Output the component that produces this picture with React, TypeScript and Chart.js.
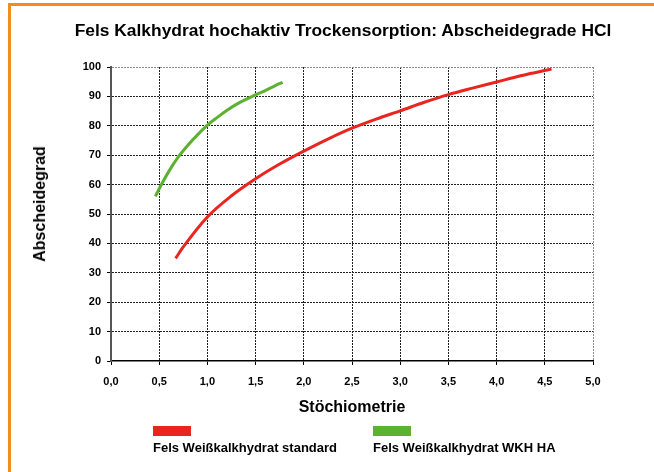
import React, { useEffect, useRef } from "react";
import { Chart, registerables } from "chart.js";

Chart.register(...registerables);

const chartTitle = "Fels Kalkhydrat hochaktiv Trockensorption: Abscheidegrade HCl";
const xAxisTitle = "Stöchiometrie";
const yAxisTitle = "Abscheidegrad";

const seriesNames = ["Fels Weißkalkhydrat standard", "Fels Weißkalkhydrat WKH HA"];
const seriesColors = ["#e8251f", "#5db130"];

const standardX = [0.67, 0.75, 1.0, 1.25, 1.5, 1.75, 2.0, 2.25, 2.5, 2.75, 3.0, 3.25, 3.5, 3.75, 4.0, 4.25, 4.57];
const standardY = [34.9, 38.8, 49.0, 56.2, 62.0, 67.0, 71.4, 75.5, 79.2, 82.3, 85.1, 88.0, 90.6, 92.8, 94.9, 97.0, 99.3];

const wkhX = [0.46, 0.5, 0.6, 0.7, 0.8, 0.9, 1.0, 1.1, 1.2, 1.3, 1.4, 1.5, 1.6, 1.7, 1.78];
const wkhY = [56.0, 58.6, 64.5, 69.5, 73.5, 77.0, 80.2, 82.8, 85.2, 87.3, 89.0, 90.5, 92.0, 93.6, 94.8];

const xMin = 0;
const xMax = 5;
const xStep = 0.5;
const yMin = 0;
const yMax = 100;
const yStep = 10;

const FONT = '"Liberation Sans", Arial, sans-serif';

export default function App() {
  const ref = useRef<HTMLCanvasElement | null>(null);

  useEffect(() => {
    if (!ref.current) return;
    const toPts = (xs: number[], ys: number[]) => xs.map((x, i) => ({ x, y: ys[i] }));
    const chart = new Chart(ref.current, {
      type: "line",
      data: {
        datasets: [
          {
            label: seriesNames[0],
            data: toPts(standardX, standardY),
            borderColor: seriesColors[0],
            backgroundColor: seriesColors[0],
            borderWidth: 3,
            pointRadius: 0,
            cubicInterpolationMode: "monotone",
            fill: false,
          },
          {
            label: seriesNames[1],
            data: toPts(wkhX, wkhY),
            borderColor: seriesColors[1],
            backgroundColor: seriesColors[1],
            borderWidth: 3,
            pointRadius: 0,
            cubicInterpolationMode: "monotone",
            fill: false,
          },
        ],
      },
      options: {
        animation: false,
        responsive: false,
        devicePixelRatio: 1,
        layout: { padding: { left: 0, top: 67, right: 61, bottom: 51 } },
        plugins: {
          legend: { display: false },
          title: { display: false },
          tooltip: { enabled: false },
        },
        scales: {
          x: {
            type: "linear",
            min: xMin,
            max: xMax,
            afterFit: (s: any) => {
              s.height = 60;
            },
            ticks: {
              stepSize: xStep,
              color: "#000",
              padding: 10,
              maxRotation: 0,
              font: { family: FONT, size: 11, weight: "bold" },
              callback: (v: any) => Number(v).toFixed(1).replace(".", ","),
            },
            grid: {
              color: (c: any) => (c.tick && c.tick.value === xMax ? "#8a8a8a" : c.tick && c.tick.value === xMin ? "rgba(0,0,0,0)" : "#222"),
              lineWidth: 1,
              tickLength: 4,
              tickColor: "#000",
              tickBorderDash: [],
            },
            border: { display: true, color: "#000", width: 1.5, dash: [2, 1] },
            title: {
              display: true,
              text: xAxisTitle,
              color: "#000",
              font: { family: FONT, size: 16, weight: "bold" },
              padding: { top: 0, bottom: 4 },
            },
          },
          y: {
            type: "linear",
            min: yMin,
            max: yMax,
            afterFit: (s: any) => {
              s.width = 111;
            },
            ticks: {
              stepSize: yStep,
              color: "#000",
              padding: 6,
              font: { family: FONT, size: 11, weight: "bold" },
            },
            grid: {
              color: (c: any) => (c.tick && c.tick.value === yMax ? "#8a8a8a" : c.tick && c.tick.value === yMin ? "rgba(0,0,0,0)" : "#222"),
              lineWidth: 1,
              tickLength: 4,
              tickColor: "#000",
              tickBorderDash: [],
            },
            border: { display: true, color: "#555", width: 2, dash: [2, 1] },
          },
        },
      },
    });
    return () => chart.destroy();
  }, []);

  const legendX = [153, 373];

  return (
    <div style={{ position: "absolute", left: 0, top: 0, width: 654, height: 472, background: "#fff", overflow: "hidden", fontFamily: FONT }}>
      <div
        style={{
          position: "absolute",
          left: 8,
          top: 3,
          width: 700,
          height: 500,
          borderLeft: "3px solid #f28c1e",
          borderTop: "3px solid #f28c1e",
        }}
      />
      <canvas ref={ref} width={654} height={472} style={{ position: "absolute", left: 0, top: 0, width: 654, height: 472 }} />
      <div
        style={{
          position: "absolute",
          left: 343,
          top: 30,
          transform: "translate(-50%, -50%)",
          whiteSpace: "nowrap",
          fontSize: 17.4,
          fontWeight: "bold",
          color: "#000",
        }}
      >
        {chartTitle}
      </div>
      <div
        style={{
          position: "absolute",
          left: 40,
          top: 204,
          transform: "translate(-50%, -50%) rotate(-90deg)",
          whiteSpace: "nowrap",
          fontSize: 16,
          fontWeight: "bold",
          color: "#000",
        }}
      >
        {yAxisTitle}
      </div>
      {seriesNames.map((name, i) => (
        <React.Fragment key={name}>
          <div style={{ position: "absolute", left: legendX[i], top: 426, width: 38, height: 10, background: seriesColors[i] }} />
          <div
            style={{
              position: "absolute",
              left: legendX[i],
              top: 440,
              lineHeight: "16px",
              fontSize: 13,
              fontWeight: "bold",
              color: "#000",
              whiteSpace: "nowrap",
            }}
          >
            {name}
          </div>
        </React.Fragment>
      ))}
    </div>
  );
}
